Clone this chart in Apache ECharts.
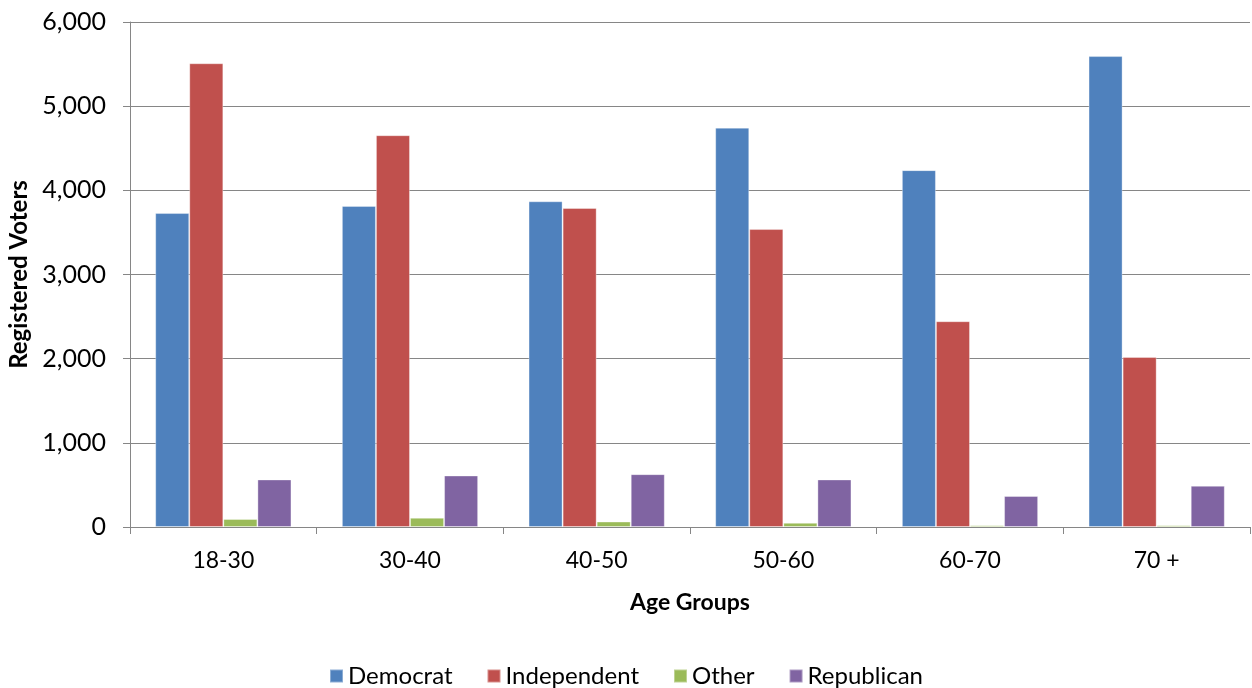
<!DOCTYPE html>
<html>
<head>
<meta charset="utf-8">
<script src="https://cdn.jsdelivr.net/npm/echarts@6/dist/echarts.min.js"></script>
<style>html,body{margin:0;padding:0;background:#fff;}#c{width:1252px;height:688px;}</style>
</head>
<body>
<div id="c"></div>
<script>
const categories = ['18-30', '30-40', '40-50', '50-60', '60-70', '70 +'];
const democrat = [3730, 3815, 3870, 4745, 4240, 5595];
const independent = [5510, 4655, 3790, 3540, 2445, 2020];
const other = [95, 110, 65, 50, 22, 22];
const republican = [565, 612, 628, 565, 368, 490];
const yTicks = [0, 1000, 2000, 3000, 4000, 5000, 6000];

const FONT = 'Lato, "Open Sans", sans-serif';
const chart = echarts.init(document.getElementById('c'));
const mk = (name, data, color) => ({
  name, type: 'bar', data, barGap: '0%', barCategoryGap: '27%',
  itemStyle: { color, borderColor: 'rgba(255,255,255,0.35)', borderWidth: 1 }
});
chart.setOption({
  animation: false,
  grid: { left: 130, right: 2, top: 22, bottom: 161, containLabel: false, outerBoundsMode: 'none' },
  legend: {
    top: 659, left: 'center', itemWidth: 13, itemHeight: 13, itemGap: 34,
    icon: 'rect',
    textStyle: { fontFamily: FONT, fontSize: 24, color: '#000' },
    data: ['Democrat', 'Independent', 'Other', 'Republican']
  },
  xAxis: {
    type: 'category', data: categories,
    name: 'Age Groups', nameLocation: 'middle', nameGap: 64,
    nameTextStyle: { fontFamily: FONT, fontSize: 23, fontWeight: 'bold', color: '#000' },
    axisLine: { lineStyle: { color: '#868686' } },
    axisTick: { show: true, alignWithLabel: false, length: 7, lineStyle: { color: '#868686' } },
    axisLabel: { fontFamily: FONT, fontSize: 23, color: '#000', margin: 22 }
  },
  yAxis: {
    type: 'value', min: 0, max: 6000, interval: 1000,
    name: 'Registered Voters', nameLocation: 'middle', nameGap: 92,
    nameTextStyle: { fontFamily: FONT, fontSize: 24, fontWeight: 'bold', color: '#000' },
    axisLine: { show: true, lineStyle: { color: '#868686' } },
    axisTick: { show: true, length: 7, lineStyle: { color: '#868686' } },
    splitLine: { lineStyle: { color: '#868686', width: 1 } },
    axisLabel: {
      fontFamily: FONT, fontSize: 25, color: '#000', margin: 24,
      formatter: v => yTicks.includes(v) ? v.toLocaleString('en-US') : ''
    }
  },
  series: [
    mk('Democrat', democrat, '#4F81BD'),
    mk('Independent', independent, '#C0504D'),
    mk('Other', other, '#9BBB59'),
    mk('Republican', republican, '#8064A2')
  ]
});
</script>
</body>
</html>
